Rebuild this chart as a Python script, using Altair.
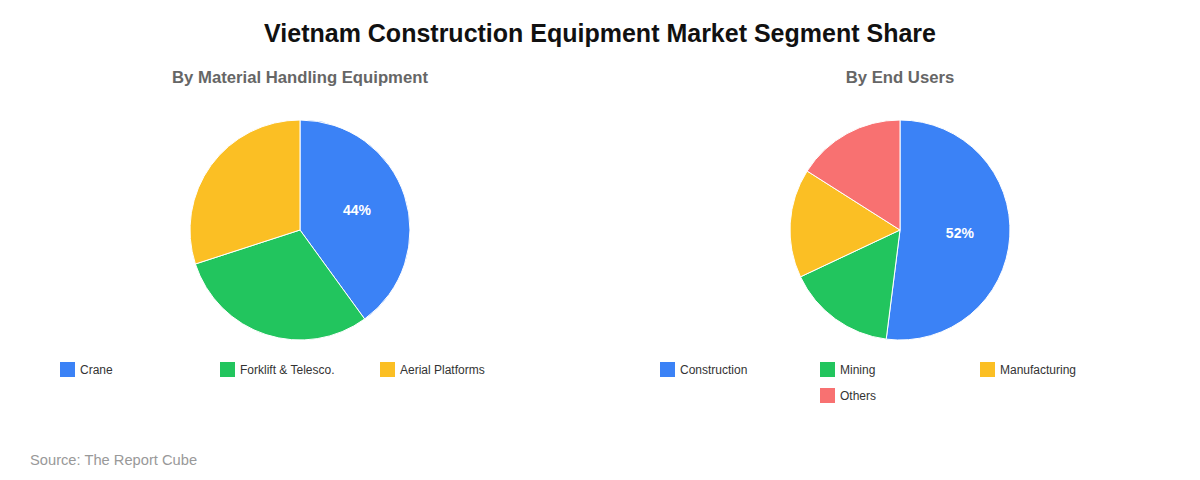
import altair as alt
import pandas as pd

FONT = "Liberation Sans, Arial, Helvetica, sans-serif"

# ---- data ----
mh_categories = ["Crane", "Forklift & Telesco.", "Aerial Platforms"]
mh_values = [44, 33, 33]
mh_colors = ["#3B82F6", "#22C55E", "#FBBF24"]

eu_categories = ["Construction", "Mining", "Manufacturing", "Others"]
eu_values = [52, 16, 16, 16]
eu_colors = ["#3B82F6", "#22C55E", "#FBBF24", "#F87171"]

title_text = "Vietnam Construction Equipment Market Segment Share"
subtitles = ["By Material Handling Equipment", "By End Users"]
source_text = "Source: The Report Cube"

df_mh = pd.DataFrame({"category": mh_categories, "value": mh_values,
                      "idx": list(range(len(mh_categories)))})
df_eu = pd.DataFrame({"category": eu_categories, "value": eu_values,
                      "idx": list(range(len(eu_categories)))})

W, H = 1184, 410
CY = 170
CX = [292, 892]
R = 110
COLS = 3
BLANK = " "  # legend spacer so a short last row is centred


def legend_layout(cats, cols):
    """Legend entries with a blank spacer to centre an incomplete last row."""
    full = len(cats) // COLS * COLS
    rest = len(cats) - full
    if rest == 0:
        return cats, cols
    pad = (COLS - rest) // 2
    return (cats[:full] + [BLANK] * pad + cats[full:],
            cols[:full] + ["rgba(0,0,0,0)"] * pad + cols[full:])


def legend(x, col_pad, values):
    return alt.Legend(
        title=None, orient="none", legendX=x, legendY=302,
        direction="horizontal", columns=COLS, gridAlign="all",
        values=values,
        symbolType="square", symbolSize=225, symbolStrokeWidth=0,
        labelFont=FONT, labelFontSize=12, labelColor="#333333",
        labelOffset=5, columnPadding=col_pad, rowPadding=11, padding=0,
    )


def pie(df, cats, cols, cx, lx, col_pad):
    dom, rng = legend_layout(cats, cols)
    base = alt.Chart(df).encode(
        theta=alt.Theta("value:Q", stack=True),
        order=alt.Order("idx:Q"),
        x=alt.value(cx), y=alt.value(CY),
    )
    arc = base.mark_arc(radius=R, stroke="white", strokeWidth=1).encode(
        color=alt.Color("category:N", sort=dom,
                        scale=alt.Scale(domain=dom, range=rng),
                        legend=legend(lx, col_pad, dom)),
    )
    lab = base.transform_calculate(
        label="datum.idx == 0 ? format(datum.value, 'd') + '%' : ''"
    ).mark_text(radius=60, font=FONT, fontSize=14, fontWeight="bold",
                color="white", baseline="middle", align="center").encode(
        text="label:N"
    )
    return arc, lab


arc1, lab1 = pie(df_mh, mh_categories, mh_colors, CX[0], 52, 45)
arc2, lab2 = pie(df_eu, eu_categories, eu_colors, CX[1], 652, 63)

sub_layers = []
for i, s in enumerate(subtitles):
    sub_layers.append(
        alt.Chart(pd.DataFrame({"t": [s]})).mark_text(
            font=FONT, fontSize=16.7, fontWeight="bold", color="#666666",
            align="center", baseline="alphabetic"
        ).encode(text="t:N", x=alt.value(CX[i]), y=alt.value(23))
    )

src = alt.Chart(pd.DataFrame({"t": [source_text]})).mark_text(
    font=FONT, fontSize=14.7, color="#999999", align="left", baseline="alphabetic"
).encode(text="t:N", x=alt.value(22), y=alt.value(405))

chart = alt.layer(arc1, lab1, arc2, lab2, *sub_layers, src).resolve_scale(
    theta="independent", color="independent"
).properties(
    width=W, height=H,
    autosize=alt.AutoSizeParams(type="none"),
    padding={"left": 0, "top": 52, "right": 0, "bottom": 0},
    title=alt.Title(title_text, font=FONT, fontSize=25, fontWeight="bold",
                    color="#111111", anchor="middle", offset=13),
).configure_view(stroke=None)

chart.save("out.html", embed_options={"renderer": "svg", "actions": False})
